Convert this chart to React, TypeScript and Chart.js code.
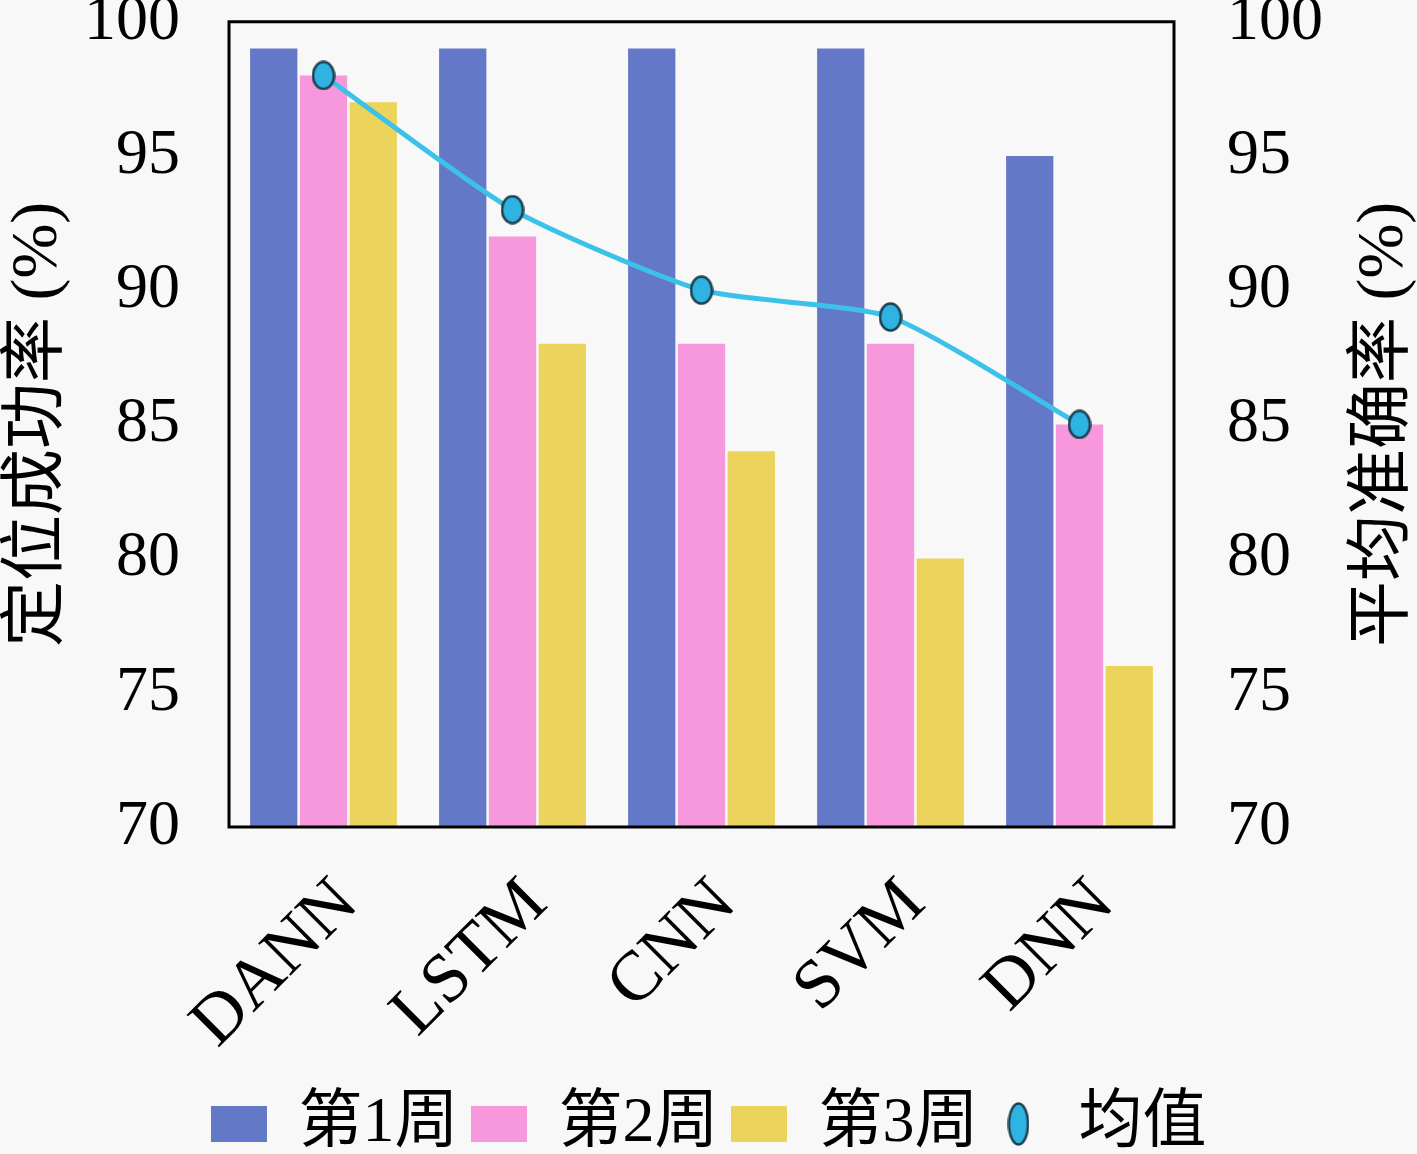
import { useEffect, useRef } from "react"
import { Chart, registerables } from "chart.js"

Chart.register(...registerables)

const categories = ["DANN", "LSTM", "CNN", "SVM", "DNN"]
const week1 = [99, 99, 99, 99, 95]
const week2 = [98, 92, 88, 88, 85]
const week3 = [97, 88, 84, 80, 76]
const meanValues = [98, 93, 90, 89, 85]
const yTicks = [70, 75, 80, 85, 90, 95, 100]

const BG = "#f8f8f8"
const SERIF = "'Liberation Serif', 'Noto Sans CJK SC', serif"

function makeRect(color: string, w: number, h: number) {
  const c = document.createElement("canvas")
  c.width = w
  c.height = h
  const ctx = c.getContext("2d")!
  ctx.fillStyle = color
  ctx.fillRect(0, 0, w, h)
  return c
}

function makeEllipse(w: number, h: number) {
  const c = document.createElement("canvas")
  c.width = w
  c.height = h
  const ctx = c.getContext("2d")!
  ctx.beginPath()
  ctx.ellipse(w / 2, h / 2, w / 2 - 1.5, h / 2 - 1.5, 0, 0, Math.PI * 2)
  ctx.fillStyle = "#2eb3e3"
  ctx.fill()
  ctx.lineWidth = 2.5
  ctx.strokeStyle = "#1c3f4e"
  ctx.stroke()
  return c
}

export default function App() {
  const chartRef = useRef<HTMLCanvasElement>(null)
  const chartInstance = useRef<Chart | null>(null)

  useEffect(() => {
    document.body.style.margin = "0"
    document.body.style.background = BG
    if (!chartRef.current) return
    if (chartInstance.current) chartInstance.current.destroy()

    const pointImg = makeEllipse(24, 30)
    const legendStyles = [
      makeRect("#6478c8", 56, 36),
      makeRect("#f797dc", 56, 36),
      makeRect("#ecd45c", 56, 36),
      makeEllipse(22, 44),
    ]

    // 背景 + 边框 + 右侧轴标题
    const framePlugin = {
      id: "frame",
      beforeDraw(chart: any) {
        const { ctx, width, height } = chart
        ctx.save()
        ctx.fillStyle = BG
        ctx.fillRect(0, 0, width, height)
        ctx.restore()
      },
      afterDraw(chart: any) {
        const { ctx, chartArea } = chart
        ctx.save()
        ctx.strokeStyle = "#000"
        ctx.lineWidth = 3
        ctx.strokeRect(chartArea.left, chartArea.top, chartArea.right - chartArea.left, chartArea.bottom - chartArea.top)
        ctx.translate(1385, (chartArea.top + chartArea.bottom) / 2)
        ctx.rotate(-Math.PI / 2)
        ctx.fillStyle = "#000"
        ctx.font = `66px ${SERIF}`
        ctx.textAlign = "center"
        ctx.textBaseline = "middle"
        ctx.fillText("平均准确率 (%)", 0, 0)
        ctx.restore()
      },
    }

    const tickFont = { family: SERIF, size: 64, lineHeight: 0.68 }
    const hiddenGrid = (len: number) => ({
      display: true,
      drawOnChartArea: false,
      drawTicks: true,
      tickLength: len,
      color: "transparent",
      tickColor: "transparent",
    })

    chartInstance.current = new Chart(chartRef.current, {
      type: "bar",
      data: {
        labels: categories,
        datasets: [
          { type: "bar", label: "第1周", data: week1, backgroundColor: "#6478c8", yAxisID: "y", order: 1 },
          { type: "bar", label: "第2周", data: week2, backgroundColor: "#f797dc", yAxisID: "y", order: 1 },
          { type: "bar", label: "第3周", data: week3, backgroundColor: "#ecd45c", yAxisID: "y", order: 1 },
          {
            type: "line",
            label: "均值",
            data: meanValues,
            borderColor: "#3cc2e8",
            borderWidth: 5,
            tension: 0.2,
            pointStyle: pointImg as any,
            yAxisID: "y1",
            order: 0,
          },
        ] as any,
      },
      options: {
        responsive: true,
        maintainAspectRatio: false,
        animation: false,
        layout: { padding: { top: 0, bottom: -12, left: 0, right: 0 } },
        datasets: {
          bar: { categoryPercentage: 0.79, barPercentage: 0.95 },
        },
        plugins: {
          tooltip: { enabled: false },
          legend: {
            position: "bottom",
            labels: {
              usePointStyle: true,
              boxWidth: 56,
              boxHeight: 36,
              padding: 12,
              color: "#000",
              font: { family: SERIF, size: 64 },
              generateLabels(chart: any) {
                const items = Chart.defaults.plugins.legend.labels.generateLabels(chart)
                return items
                  .sort((a: any, b: any) => a.datasetIndex - b.datasetIndex)
                  .map((it: any) => ({ ...it, pointStyle: legendStyles[it.datasetIndex], lineWidth: 0 }))
              },
            },
          },
        },
        scales: {
          x: {
            grid: { display: false, drawTicks: false },
            border: { display: false },
            ticks: {
              color: "#000",
              font: { family: SERIF, size: 70 },
              minRotation: 45,
              maxRotation: 45,
              padding: 36,
              labelOffset: 24,
            },
            afterFit(scale: any) {
              scale.height = 253
            },
          },
          y: {
            position: "left",
            min: 70,
            max: 100,
            grid: hiddenGrid(49),
            border: { display: false },
            afterBuildTicks(scale: any) {
              scale.ticks = yTicks.map((v) => ({ value: v }))
            },
            ticks: { color: "#000", font: tickFont, padding: 0 },
            title: {
              display: true,
              text: "定位成功率 (%)",
              color: "#000",
              font: { family: SERIF, size: 66, lineHeight: 1 },
              padding: { top: 6, bottom: 0 },
            },
            afterFit(scale: any) {
              scale.width = 229
            },
          },
          y1: {
            position: "right",
            min: 70,
            max: 100,
            grid: hiddenGrid(53),
            border: { display: false },
            afterBuildTicks(scale: any) {
              scale.ticks = yTicks.map((v) => ({ value: v }))
            },
            ticks: { color: "#000", font: tickFont, padding: 0 },
            afterFit(scale: any) {
              scale.width = 243
            },
          },
        },
      } as any,
      plugins: [framePlugin],
    })

    return () => {
      if (chartInstance.current) {
        chartInstance.current.destroy()
        chartInstance.current = null
      }
    }
  }, [])

  return (
    <div style={{ position: "relative", width: 1417, height: 1154 }}>
      <canvas ref={chartRef} />
    </div>
  )
}
